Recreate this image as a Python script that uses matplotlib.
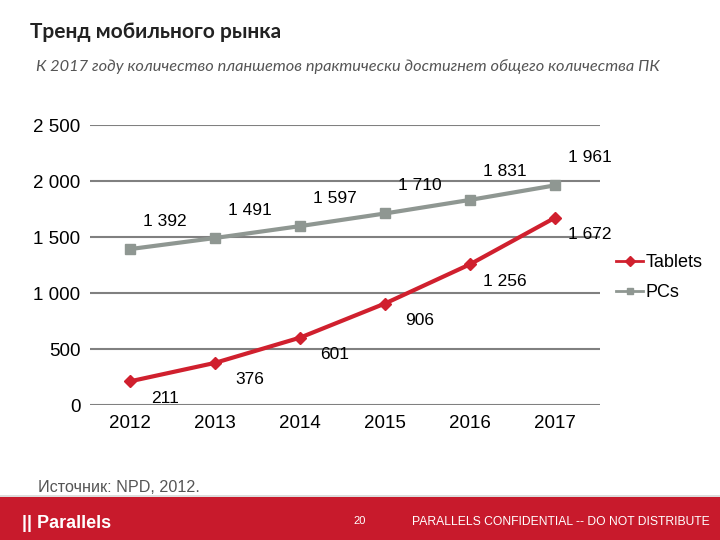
import matplotlib.pyplot as plt
import numpy as np
from matplotlib.patches import Rectangle

plt.rcParams['font.family'] = ['Liberation Sans', 'DejaVu Sans']

years = ["2012", "2013", "2014", "2015", "2016", "2017"]
tablets = [211, 376, 601, 906, 1256, 1672]
pcs = [1392, 1491, 1597, 1710, 1831, 1961]
yticks = [0, 500, 1000, 1500, 2000, 2500]


def fmt(v):
    return "{:,}".format(v).replace(",", " ")


fig = plt.figure(figsize=(7.2, 5.4), dpi=100)

# titles
fig.text(30 / 720, 1 - 32 / 540, "Тренд мобильного рынка", fontsize=15,
         family=['Lato', 'DejaVu Sans'], fontweight='bold', color='#222222', va='center')
fig.text(36 / 720, 1 - 67 / 540,
         "К 2017 году количество планшетов практически достигнет общего количества ПК",
         fontsize=11.8, family=['Lato', 'DejaVu Sans'], style='italic',
         color='#555555', va='center')

ax = fig.add_axes([90 / 720, 1 - 405 / 540, 510 / 720, 280 / 540])
x = np.arange(len(years))
ax.plot(x, tablets, color='#d0202e', lw=3, marker='D', ms=6, label='Tablets', zorder=3)
ax.plot(x, pcs, color='#8f9792', lw=3, marker='s', ms=6.5, label='PCs', zorder=3)

for i in range(len(years)):
    ax.annotate(fmt(tablets[i]), (x[i], tablets[i]), xytext=(35, -17),
                textcoords='offset pixels', ha='center', va='center', fontsize=12.5)
    ax.annotate(fmt(pcs[i]), (x[i], pcs[i]), xytext=(35, 28),
                textcoords='offset pixels', ha='center', va='center', fontsize=12.5)

ax.set_xlim(-0.47, 5.53)
ax.set_ylim(0, 2500)
ax.set_yticks(yticks)
ax.set_yticklabels([fmt(v) for v in yticks], fontsize=13.5)
ax.set_xticks(x)
ax.set_xticklabels(years, fontsize=13.5)
ax.grid(axis='y', color='#808080', lw=1.5)
ax.set_axisbelow(True)
for s in ax.spines.values():
    s.set_visible(False)
ax.tick_params(length=0, pad=7)

leg = ax.legend(loc='center left', bbox_to_anchor=(1.0, 0.455), frameon=False,
                fontsize=13, handlelength=1.5, handletextpad=0.1, labelspacing=0.7)
for ln in leg.get_lines():
    ln.set_linewidth(2)
    ln.set_markersize(5)

fig.text(38 / 720, 1 - 487 / 540, "Источник: NPD, 2012.", fontsize=11.6,
         color='#555555', va='center')

# footer band
fig.patches.append(Rectangle((0, 0), 1, 43 / 540, transform=fig.transFigure,
                             facecolor='#c81a2c', edgecolor='none'))
fig.patches.append(Rectangle((0, 43 / 540), 1, 2 / 540, transform=fig.transFigure,
                             facecolor='#dddddd', edgecolor='none'))
fig.text(22 / 720, 1 - 523 / 540, "|| Parallels", fontsize=13, fontweight='bold',
         color='white', va='center')
fig.text(360 / 720, 1 - 521 / 540, "20", fontsize=8, color='white', ha='center',
         va='center')
fig.text(710 / 720, 1 - 522 / 540, "PARALLELS CONFIDENTIAL -- DO NOT DISTRIBUTE",
         fontsize=8.7, color='white', ha='right', va='center')

fig.savefig("out.png", dpi=100)
